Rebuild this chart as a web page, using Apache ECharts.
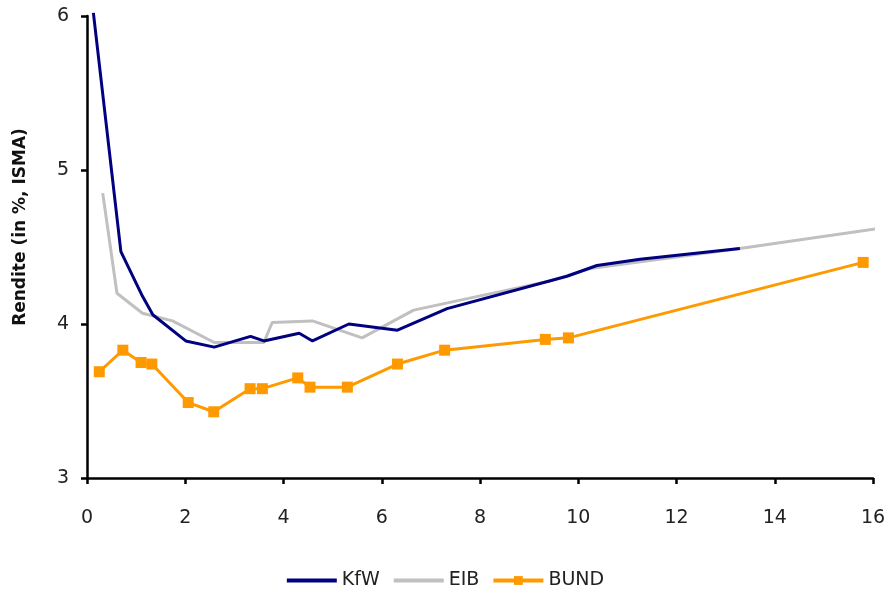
<!DOCTYPE html>
<html>
<head>
<meta charset="utf-8">
<script src="https://cdn.jsdelivr.net/npm/echarts@6/dist/echarts.min.js"></script>
<style>
  html, body { margin: 0; padding: 0; background: #fff; }
  #chart { width: 889px; height: 599px; }
</style>
</head>
<body>
<div id="chart"></div>
<script>
// Restlaufzeit (Jahre) und Rendite (%) je Emittent
const kfwX = [0.13, 0.69, 1.13, 1.34, 2.01, 2.59, 3.33, 3.60, 4.32, 4.59, 5.33, 6.32, 7.33, 9.77, 10.38, 11.26, 13.29];
const kfwY = [6.02, 4.47, 4.18, 4.06, 3.89, 3.85, 3.92, 3.89, 3.94, 3.89, 4.00, 3.96, 4.10, 4.31, 4.38, 4.42, 4.49];

const eibX = [0.32, 0.61, 1.13, 1.74, 2.59, 3.60, 3.77, 4.59, 5.60, 6.65, 9.43, 10.24, 13.29, 16.10];
const eibY = [4.85, 4.20, 4.07, 4.02, 3.88, 3.88, 4.01, 4.02, 3.91, 4.09, 4.28, 4.36, 4.49, 4.62];

const bundX = [0.25, 0.73, 1.10, 1.32, 2.06, 2.58, 3.32, 3.57, 4.29, 4.54, 5.30, 6.32, 7.28, 9.33, 9.80, 15.80];
const bundY = [3.69, 3.83, 3.75, 3.74, 3.49, 3.43, 3.58, 3.58, 3.65, 3.59, 3.59, 3.74, 3.83, 3.90, 3.91, 4.40];

const xTicks = { min: 0, max: 16, interval: 2 };
const yTicks = { min: 3, max: 6, interval: 1 };

const zip = (xs, ys) => xs.map((x, i) => [x, ys[i]]);

const FONT = 'DejaVu Sans';

const chart = echarts.init(document.getElementById('chart'), null, { renderer: 'canvas' });

chart.setOption({
  animation: false,
  backgroundColor: '#ffffff',
  grid: { left: 87, right: 16, top: 16, bottom: 121, containLabel: false },
  legend: {
    bottom: 4,
    left: 'center',
    itemWidth: 50,
    itemHeight: 11,
    itemGap: 12,
    lineStyle: { width: 4 },
    textStyle: { fontFamily: FONT, fontSize: 19, color: '#222' },
    data: [
      { name: 'KfW', itemStyle: { opacity: 0 } },
      { name: 'EIB', itemStyle: { opacity: 0 } },
      { name: 'BUND' }
    ]
  },
  xAxis: {
    type: 'value',
    min: xTicks.min,
    max: xTicks.max,
    interval: xTicks.interval,
    axisLine: { show: true, lineStyle: { color: '#000', width: 2.5 } },
    axisTick: { show: true, length: 6, lineStyle: { color: '#000', width: 2.5 } },
    axisLabel: { margin: 31, fontFamily: FONT, fontSize: 19, color: '#222' },
    splitLine: { show: false }
  },
  yAxis: {
    type: 'value',
    min: yTicks.min,
    max: yTicks.max,
    interval: yTicks.interval,
    name: 'Rendite (in %, ISMA)',
    nameLocation: 'middle',
    nameGap: 58,
    nameTextStyle: { fontFamily: FONT, fontSize: 17, fontWeight: 'bold', color: '#111', padding: [0, 0, 0, 40] },
    axisLine: { show: true, lineStyle: { color: '#000', width: 2.5 } },
    axisTick: { show: true, length: 6, lineStyle: { color: '#000', width: 2.5 } },
    axisLabel: { margin: 18, fontFamily: FONT, fontSize: 19, color: '#222' },
    splitLine: { show: false }
  },
  series: [
    {
      name: 'KfW',
      type: 'line',
      data: zip(kfwX, kfwY),
      clip: false,
      symbol: 'none',
      color: '#000080',
      lineStyle: { color: '#000080', width: 3 },
      z: 3
    },
    {
      name: 'EIB',
      type: 'line',
      data: zip(eibX, eibY),
      clip: false,
      symbol: 'none',
      color: '#c0c0c0',
      lineStyle: { color: '#c0c0c0', width: 3 },
      z: 2
    },
    {
      name: 'BUND',
      type: 'line',
      data: zip(bundX, bundY),
      clip: false,
      symbol: 'rect',
      symbolSize: 11,
      color: '#ff9900',
      itemStyle: { color: '#ff9900' },
      lineStyle: { color: '#ff9900', width: 3 },
      z: 4
    }
  ]
});
</script>
</body>
</html>
